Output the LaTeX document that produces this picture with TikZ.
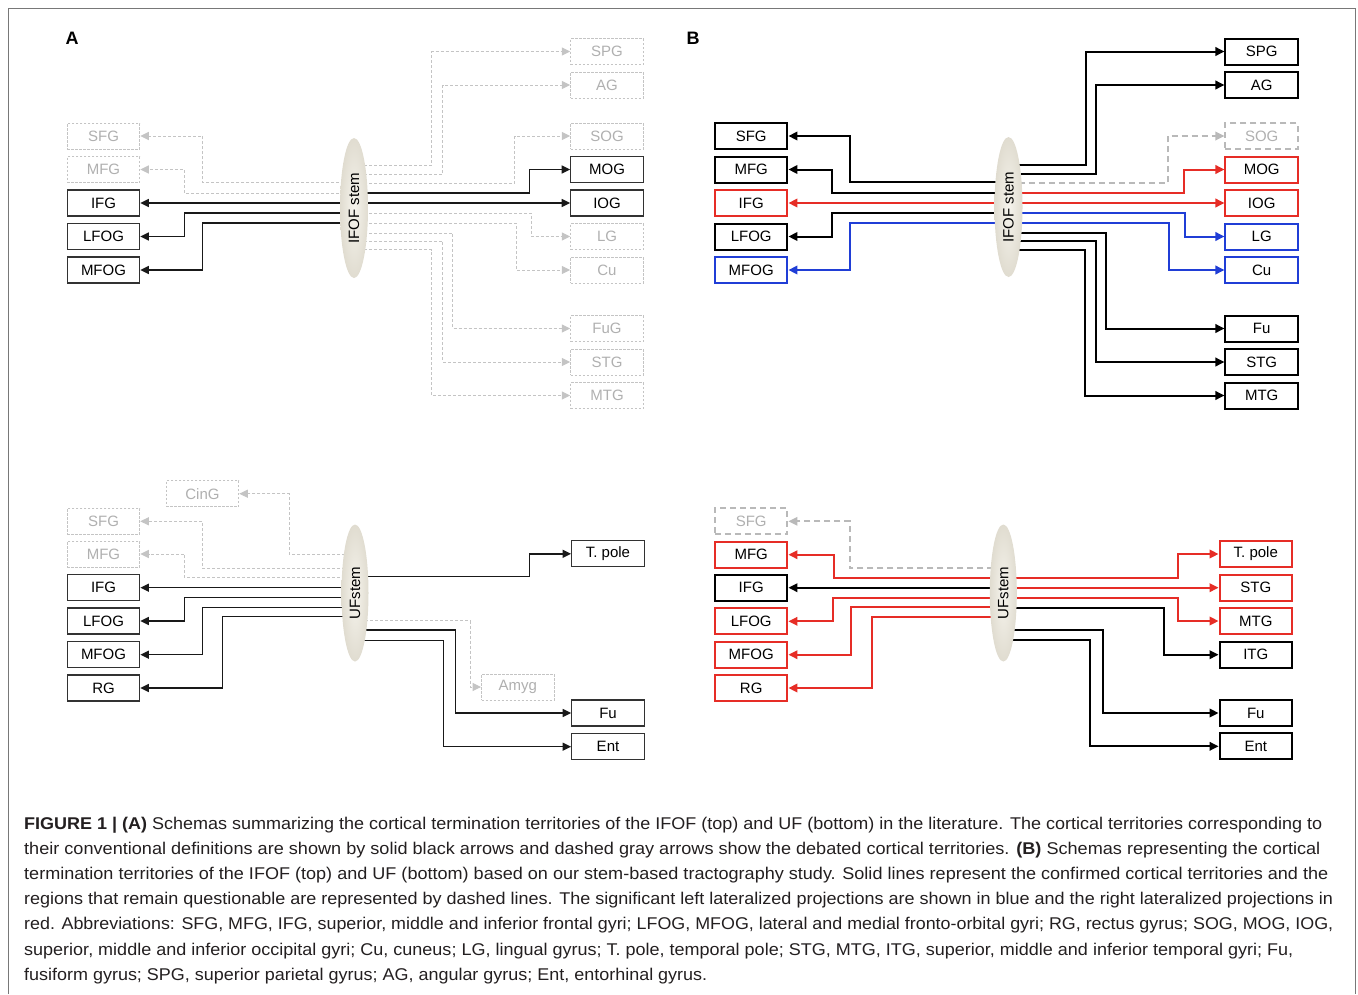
\documentclass[tikz,border=0pt]{standalone}
\usepackage{fontspec}
\usepackage{graphicx}
\setmainfont{Liberation Sans}
\usetikzlibrary{arrows.meta,shapes.geometric}
\definecolor{myred}{RGB}{230,45,38}
\definecolor{myblue}{RGB}{32,62,214}
\definecolor{gline}{RGB}{196,196,196}
\definecolor{gtext}{RGB}{176,176,176}
\definecolor{dgline}{RGB}{185,185,185}
\definecolor{lineA}{RGB}{25,25,25}
\definecolor{boxA}{RGB}{50,50,50}
\definecolor{framec}{RGB}{120,120,120}
\definecolor{captc}{RGB}{35,31,32}
\definecolor{stemin}{RGB}{246,244,237}
\definecolor{stemout}{RGB}{224,220,208}
\pgfdeclarelayer{fg}
\pgfsetlayers{main,fg}
\newcommand\boxfont{\fontsize{15}{18}\selectfont}
\newcommand\capfont{\fontsize{17}{20}\selectfont}
\newcommand\capline[2]{\resizebox{#1}{\height}{#2}}
\tikzset{
  box/.style={draw=boxA, line width=1.2pt, fill=white, minimum width=72.5pt, minimum height=26pt, inner sep=0pt, font=\boxfont, text=black},
  gbox/.style={box, draw=gline, dash pattern=on 2.5pt off 1.5pt, line width=1pt, text=gtext},
  bbox/.style={box, line width=2pt, draw=black},
  rbox/.style={bbox, draw=myred},
  ubox/.style={bbox, draw=myblue},
  dbox/.style={bbox, draw=dgline, dash pattern=on 6pt off 4pt, text=gtext},
  stem/.style={ellipse, inner sep=0pt, shade, inner color=stemin, outer color=stemout, font=\boxfont},
  stemtop/.style={stem, minimum width=28pt, minimum height=140pt},
  stembot/.style={stem, minimum width=27pt, minimum height=137pt},
  solA/.style={line width=1.4pt, draw=lineA, -{Triangle[length=8.5pt,width=8pt]}},
  dashA/.style={line width=1pt, draw=gline, dash pattern=on 3pt off 2pt, -{Triangle[length=8.5pt,width=8pt,fill=gline]}},
  solB/.style={line width=2pt, draw=black, -{Triangle[length=9pt,width=8.5pt]}},
  redB/.style={solB, draw=myred, -{Triangle[length=9pt,width=8.5pt,fill=myred]}},
  bluB/.style={solB, draw=myblue, -{Triangle[length=9pt,width=8.5pt,fill=myblue]}},
  dashB/.style={line width=1.8pt, draw=dgline, dash pattern=on 6pt off 4pt, -{Triangle[length=9pt,width=8.5pt,fill=dgline]}},
  plabel/.style={font=\fontsize{18}{20}\selectfont\bfseries, inner sep=0pt},
  capnode/.style={anchor=base west, inner sep=0pt, font=\capfont, text=captc}
}
\begin{document}
\begin{tikzpicture}[x=1pt,y=-1pt]
\useasboundingbox (0,0) rectangle (1358,994);
\draw[framec, line width=1pt] (8.5,994) -- (8.5,8.5) -- (1355.5,8.5) -- (1355.5,994);

\node[plabel] (labA) at (72,38) {A};
\node[plabel] (labB) at (693,38) {B};

% ---------------- A top ----------------
\node[gbox] (atSFG) at (103.5,136) {SFG};
\node[gbox] (atMFG) at (103.5,169.5) {MFG};
\node[box] (atIFG) at (103.5,203) {IFG};
\node[box] (atLFOG) at (103.5,236.5) {LFOG};
\node[box] (atMFOG) at (103.5,270) {MFOG};
\node[gbox] (atSPG) at (607,51.5) {SPG};
\node[gbox] (atAG) at (607,85) {AG};
\node[gbox] (atSOG) at (607,136) {SOG};
\node[box] (atMOG) at (607,169.5) {MOG};
\node[box] (atIOG) at (607,203) {IOG};
\node[gbox] (atLG) at (607,236.5) {LG};
\node[gbox] (atCu) at (607,270) {Cu};
\node[gbox] (atFuG) at (607,328.5) {FuG};
\node[gbox] (atSTG) at (607,362) {STG};
\node[gbox] (atMTG) at (607,395.5) {MTG};
\begin{pgfonlayer}{fg}
\node[stemtop] (sA) at (354,208) {\rotatebox{90}{IFOF stem}};
\end{pgfonlayer}
\draw[dashA] ([yshift=25.5pt]sA.center) -| ([xshift=62pt]atSFG.east) -- (atSFG.east);
\draw[dashA] ([yshift=15pt]sA.center) -| ([xshift=44pt]atMFG.east) -- (atMFG.east);
\draw[solA] (atIFG.east -| sA.center) -- (atIFG.east);
\draw[solA] ([yshift=-5pt]sA.center) -| ([xshift=44pt]atLFOG.east) -- (atLFOG.east);
\draw[solA] ([yshift=-15pt]sA.center) -| ([xshift=62pt]atMFOG.east) -- (atMFOG.east);
\draw[dashA] ([yshift=43pt]sA.center) -| ([xshift=-138.75pt]atSPG.west) -- (atSPG.west);
\draw[dashA] ([yshift=34pt]sA.center) -| ([xshift=-127.75pt]atAG.west) -- (atAG.west);
\draw[dashA] ([yshift=25pt]sA.center) -| ([xshift=-55.75pt]atSOG.west) -- (atSOG.west);
\draw[solA] ([yshift=15pt]sA.center) -| ([xshift=-40.75pt]atMOG.west) -- (atMOG.west);
\draw[solA] (atIOG.west -| sA.center) -- (atIOG.west);
\draw[dashA] ([yshift=-5pt]sA.center) -| ([xshift=-39pt]atLG.west) -- (atLG.west);
\draw[dashA] ([yshift=-15pt]sA.center) -| ([xshift=-54pt]atCu.west) -- (atCu.west);
\draw[dashA] ([yshift=-25pt]sA.center) -| ([xshift=-117.5pt]atFuG.west) -- (atFuG.west);
\draw[dashA] ([yshift=-33pt]sA.center) -| ([xshift=-127.5pt]atSTG.west) -- (atSTG.west);
\draw[dashA] ([yshift=-41.5pt]sA.center) -| ([xshift=-139pt]atMTG.west) -- (atMTG.west);

% ---------------- B top ----------------
\node[bbox] (btSFG) at (751.2,136) {SFG};
\node[bbox] (btMFG) at (751.2,169.5) {MFG};
\node[rbox] (btIFG) at (751.2,203) {IFG};
\node[bbox] (btLFOG) at (751.2,236.5) {LFOG};
\node[ubox] (btMFOG) at (751.2,270) {MFOG};
\node[bbox] (btSPG) at (1261.7,51.5) {SPG};
\node[bbox] (btAG) at (1261.7,85) {AG};
\node[dbox] (btSOG) at (1261.7,136) {SOG};
\node[rbox] (btMOG) at (1261.7,169.5) {MOG};
\node[rbox] (btIOG) at (1261.7,203) {IOG};
\node[ubox] (btLG) at (1261.7,236.5) {LG};
\node[ubox] (btCu) at (1261.7,270) {Cu};
\node[bbox] (btFu) at (1261.7,328.5) {Fu};
\node[bbox] (btSTG) at (1261.7,362) {STG};
\node[bbox] (btMTG) at (1261.7,395.5) {MTG};
\begin{pgfonlayer}{fg}
\node[stemtop] (sB) at (1008.5,207) {\rotatebox{90}{IFOF stem}};
\end{pgfonlayer}
\draw[solB] ([yshift=25pt]sB.center) -| ([xshift=61.5pt]btSFG.east) -- (btSFG.east);
\draw[solB] ([yshift=14pt]sB.center) -| ([xshift=44pt]btMFG.east) -- (btMFG.east);
\draw[redB] (btIFG.east -| sB.center) -- (btIFG.east);
\draw[solB] ([yshift=-6pt]sB.center) -| ([xshift=43.5pt]btLFOG.east) -- (btLFOG.east);
\draw[bluB] ([yshift=-16pt]sB.center) -| ([xshift=62pt]btMFOG.east) -- (btMFOG.east);
\draw[solB] ([yshift=42pt]sB.center) -| ([xshift=-138pt]btSPG.west) -- (btSPG.west);
\draw[solB] ([yshift=33pt]sB.center) -| ([xshift=-128pt]btAG.west) -- (btAG.west);
\draw[dashB] ([yshift=24pt]sB.center) -| ([xshift=-56.5pt]btSOG.west) -- (btSOG.west);
\draw[redB] ([yshift=14pt]sB.center) -| ([xshift=-40.5pt]btMOG.west) -- (btMOG.west);
\draw[redB] (btIOG.west -| sB.center) -- (btIOG.west);
\draw[bluB] ([yshift=-6pt]sB.center) -| ([xshift=-39.5pt]btLG.west) -- (btLG.west);
\draw[bluB] ([yshift=-16pt]sB.center) -| ([xshift=-55pt]btCu.west) -- (btCu.west);
\draw[solB] ([yshift=-26pt]sB.center) -| ([xshift=-118pt]btFu.west) -- (btFu.west);
\draw[solB] ([yshift=-34pt]sB.center) -| ([xshift=-128.8pt]btSTG.west) -- (btSTG.west);
\draw[solB] ([yshift=-42.5pt]sB.center) -| ([xshift=-139.5pt]btMTG.west) -- (btMTG.west);

% ---------------- A bottom ----------------
\node[gbox] (abCinG) at (202.5,493.7) {CinG};
\node[gbox] (abSFG) at (103.5,521.3) {SFG};
\node[gbox] (abMFG) at (103.5,554) {MFG};
\node[box] (abIFG) at (103.5,587.7) {IFG};
\node[box] (abLFOG) at (103.5,621) {LFOG};
\node[box] (abMFOG) at (103.5,654.7) {MFOG};
\node[box] (abRG) at (103.5,688) {RG};
\node[box] (abTpole) at (608,553.8) {T. pole};
\node[gbox] (abAmyg) at (517.8,687) {Amyg};
\node[box] (abFu) at (608,713) {Fu};
\node[box] (abEnt) at (608,746.7) {Ent};
\begin{pgfonlayer}{fg}
\node[stembot] (sC) at (355,593) {\rotatebox{90}{UFstem}};
\end{pgfonlayer}
\draw[dashA] ([yshift=39pt]sC.center) -| ([xshift=50pt]abCinG.east) -- (abCinG.east);
\draw[dashA] ([yshift=24.7pt]sC.center) -| ([xshift=62pt]abSFG.east) -- (abSFG.east);
\draw[dashA] ([yshift=15.3pt]sC.center) -| ([xshift=44.2pt]abMFG.east) -- (abMFG.east);
\draw[solA] (abIFG.east -| sC.center) -- (abIFG.east);
\draw[solA] ([yshift=-4.7pt]sC.center) -| ([xshift=44.2pt]abLFOG.east) -- (abLFOG.east);
\draw[solA] ([yshift=-14.3pt]sC.center) -| ([xshift=62pt]abMFOG.east) -- (abMFOG.east);
\draw[solA] ([yshift=-23.7pt]sC.center) -| ([xshift=82pt]abRG.east) -- (abRG.east);
\draw[solA] ([yshift=16.3pt]sC.center) -| ([xshift=-41.75pt]abTpole.west) -- (abTpole.west);
\draw[dashA] ([yshift=-27.7pt]sC.center) -| ([xshift=-10.85pt]abAmyg.west) -- (abAmyg.west);
\draw[solA] ([yshift=-37pt]sC.center) -| ([xshift=-115.75pt]abFu.west) -- (abFu.west);
\draw[solA] ([yshift=-47.7pt]sC.center) -| ([xshift=-127.75pt]abEnt.west) -- (abEnt.west);

% ---------------- B bottom ----------------
\node[dbox] (bbSFG) at (751.2,521.3) {SFG};
\node[rbox] (bbMFG) at (751.2,554.7) {MFG};
\node[bbox] (bbIFG) at (751.2,587.7) {IFG};
\node[rbox] (bbLFOG) at (751.2,621.3) {LFOG};
\node[rbox] (bbMFOG) at (751.2,654.7) {MFOG};
\node[rbox] (bbRG) at (751.2,688) {RG};
\node[rbox] (bbTpole) at (1255.8,554) {T. pole};
\node[rbox] (bbSTG) at (1255.8,587.7) {STG};
\node[rbox] (bbMTG) at (1255.8,621) {MTG};
\node[bbox] (bbITG) at (1255.8,654.7) {ITG};
\node[bbox] (bbFu) at (1255.8,713) {Fu};
\node[bbox] (bbEnt) at (1255.8,746.3) {Ent};
\begin{pgfonlayer}{fg}
\node[stembot] (sD) at (1003.3,593) {\rotatebox{90}{UFstem}};
\end{pgfonlayer}
\draw[dashB] ([yshift=24.7pt]sD.center) -| ([xshift=61.5pt]bbSFG.east) -- (bbSFG.east);
\draw[redB] ([yshift=15.3pt]sD.center) -| ([xshift=45.2pt]bbMFG.east) -- (bbMFG.east);
\draw[solB] (bbIFG.east -| sD.center) -- (bbIFG.east);
\draw[redB] ([yshift=-4.7pt]sD.center) -| ([xshift=44.2pt]bbLFOG.east) -- (bbLFOG.east);
\draw[redB] ([yshift=-14.3pt]sD.center) -| ([xshift=62.5pt]bbMFOG.east) -- (bbMFOG.east);
\draw[redB] ([yshift=-23.7pt]sD.center) -| ([xshift=83.2pt]bbRG.east) -- (bbRG.east);
\draw[redB] ([yshift=15.3pt]sD.center) -| ([xshift=-40.5pt]bbTpole.west) -- (bbTpole.west);
\draw[redB] (bbSTG.west -| sD.center) -- (bbSTG.west);
\draw[redB] ([yshift=-4.7pt]sD.center) -| ([xshift=-40.5pt]bbMTG.west) -- (bbMTG.west);
\draw[solB] ([yshift=-14.7pt]sD.center) -| ([xshift=-54.5pt]bbITG.west) -- (bbITG.west);
\draw[solB] ([yshift=-37pt]sD.center) -| ([xshift=-115.5pt]bbFu.west) -- (bbFu.west);
\draw[solB] ([yshift=-47pt]sD.center) -| ([xshift=-128.8pt]bbEnt.west) -- (bbEnt.west);

% ---------------- caption ----------------
\node[capnode] (c1) at (24,829) {\capline{1298pt}{\textbf{FIGURE 1 | (A)} Schemas summarizing the cortical termination territories of the IFOF (top) and UF (bottom) in the literature. The cortical territories corresponding to}};
\node[capnode] (c2) at (24,854.2) {\capline{1296pt}{their conventional definitions are shown by solid black arrows and dashed gray arrows show the debated cortical territories. \textbf{(B)} Schemas representing the cortical}};
\node[capnode] (c3) at (24,879.4) {\capline{1304pt}{termination territories of the IFOF (top) and UF (bottom) based on our stem-based tractography study. Solid lines represent the confirmed cortical territories and the}};
\node[capnode] (c4) at (24,904.6) {\capline{1309pt}{regions that remain questionable are represented by dashed lines. The significant left lateralized projections are shown in blue and the right lateralized projections in}};
\node[capnode] (c5) at (24,929.8) {\capline{1309pt}{red. Abbreviations: SFG, MFG, IFG, superior, middle and inferior frontal gyri; LFOG, MFOG, lateral and medial fronto-orbital gyri; RG, rectus gyrus; SOG, MOG, IOG,}};
\node[capnode] (c6) at (24,955) {\capline{1269pt}{superior, middle and inferior occipital gyri; Cu, cuneus; LG, lingual gyrus; T. pole, temporal pole; STG, MTG, ITG, superior, middle and inferior temporal gyri; Fu,}};
\node[capnode] (c7) at (24,980.2) {\capline{683pt}{fusiform gyrus; SPG, superior parietal gyrus; AG, angular gyrus; Ent, entorhinal gyrus.}};
\end{tikzpicture}
\end{document}
